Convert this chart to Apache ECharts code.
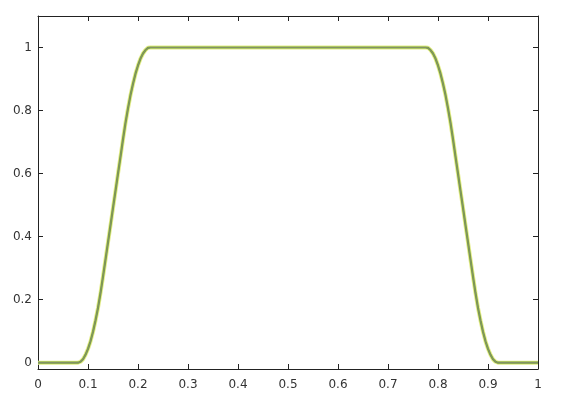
<!DOCTYPE html>
<html>
<head>
<meta charset="utf-8">
<script src="https://cdn.jsdelivr.net/npm/echarts@6/dist/echarts.min.js"></script>
<style>html,body{margin:0;padding:0;background:#fff}#c{width:563px;height:403px}</style>
</head>
<body>
<div id="c"></div>
<script>
var xValues = [0, 0.05, 0.075, 0.08, 0.085, 0.09, 0.095, 0.10, 0.105, 0.11, 0.115, 0.12, 0.125, 0.13, 0.135, 0.14, 0.145, 0.15, 0.155, 0.16, 0.165, 0.17, 0.175, 0.18, 0.185, 0.19, 0.195, 0.20, 0.205, 0.21, 0.215, 0.22, 0.225, 0.3, 0.4, 0.5, 0.6, 0.7, 0.775, 0.78, 0.785, 0.79, 0.795, 0.80, 0.805, 0.81, 0.815, 0.82, 0.825, 0.83, 0.835, 0.84, 0.845, 0.85, 0.855, 0.86, 0.865, 0.87, 0.875, 0.88, 0.885, 0.89, 0.895, 0.90, 0.905, 0.91, 0.915, 0.92, 0.925, 0.95, 1];
var yValues = [0, 0, 0, 0, 0.003, 0.011, 0.025, 0.044, 0.068, 0.098, 0.134, 0.174, 0.221, 0.273, 0.327, 0.382, 0.436, 0.491, 0.545, 0.600, 0.654, 0.709, 0.761, 0.807, 0.849, 0.885, 0.917, 0.943, 0.965, 0.981, 0.992, 0.999, 1, 1, 1, 1, 1, 1, 1, 0.999, 0.992, 0.981, 0.965, 0.943, 0.917, 0.885, 0.849, 0.807, 0.761, 0.709, 0.654, 0.600, 0.545, 0.491, 0.436, 0.382, 0.327, 0.273, 0.221, 0.174, 0.134, 0.098, 0.068, 0.044, 0.025, 0.011, 0.003, 0, 0, 0, 0];
var yTickValues = [0, 0.2, 0.4, 0.6, 0.8, 1];
var yTickLabels = ['0', '0.2', '0.4', '0.6', '0.8', '1'];

var pts = xValues.map(function (x, i) { return [x, yValues[i]]; });
var font = 'DejaVu Sans';
var axisLine = { show: true, onZero: false, lineStyle: { color: '#222', width: 1 } };
var tick = { show: true, inside: true, length: 5, lineStyle: { color: '#222', width: 1 } };

var chart = echarts.init(document.getElementById('c'), null, { renderer: 'canvas' });
chart.setOption({
  animation: false,
  backgroundColor: '#fff',
  grid: { left: 38, right: 25, top: 16, bottom: 34, containLabel: false },
  xAxis: [{
    type: 'value', min: 0, max: 1, interval: 0.1, position: 'bottom',
    axisLine: axisLine, axisTick: tick, splitLine: { show: false },
    axisLabel: { color: '#333', fontFamily: font, fontSize: 12, margin: 10,
      formatter: function (v) { return String(Math.round(v * 10) / 10); } }
  }, {
    type: 'value', min: 0, max: 1, interval: 0.1, position: 'top',
    axisLine: axisLine, axisTick: tick, splitLine: { show: false }, axisLabel: { show: false }
  }],
  yAxis: [{
    type: 'value', min: -0.02, max: 1.1, position: 'left',
    axisLine: axisLine,
    axisTick: Object.assign({}, tick, { customValues: yTickValues }),
    splitLine: { show: false },
    axisLabel: { color: '#333', fontFamily: font, fontSize: 12, margin: 6,
      customValues: yTickValues,
      formatter: function (v) { var i = yTickValues.indexOf(Math.round(v * 10) / 10); return i >= 0 ? yTickLabels[i] : ''; } }
  }, {
    type: 'value', min: -0.02, max: 1.1, position: 'right',
    axisLine: axisLine,
    axisTick: Object.assign({}, tick, { customValues: yTickValues }),
    splitLine: { show: false }, axisLabel: { show: false }
  }],
  series: [{
    type: 'line', data: pts, showSymbol: false, smooth: false,
    lineStyle: { color: '#e4ec8a', width: 4 }, z: 1
  }, {
    type: 'line', data: pts, showSymbol: false, smooth: false,
    lineStyle: { color: '#76a03a', width: 2.2 }, z: 2
  }, {
    type: 'line', data: pts, showSymbol: false, smooth: false,
    lineStyle: { color: '#868b78', width: 1.2, opacity: 0.7 }, z: 3
  }]
});
</script>
</body>
</html>
